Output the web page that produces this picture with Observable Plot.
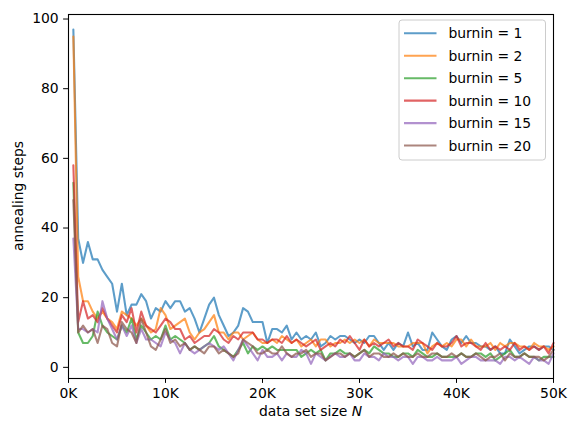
<!DOCTYPE html>
<html>
<head>
<meta charset="utf-8">
<script src="https://cdn.jsdelivr.net/npm/d3@7"></script>
<script src="https://cdn.jsdelivr.net/npm/@observablehq/plot@0.6"></script>
<style>
  html, body { margin: 0; padding: 0; background: #fff; }
  svg { display: block; }
</style>
</head>
<body>
<div id="chart"></div>
<script>
// sample grid: data set size N
const sizes = [
  500,1000,1500,2000,2500,3000,3500,4000,4500,5000,
  5500,6000,6500,7000,7500,8000,8500,9000,9500,10000,
  10500,11000,11500,12000,12500,13000,13500,14000,14500,15000,
  15500,16000,16500,17000,17500,18000,18500,19000,19500,20000,
  20500,21000,21500,22000,22500,23000,23500,24000,24500,25000,
  25500,26000,26500,27000,27500,28000,28500,29000,29500,30000,
  30500,31000,31500,32000,32500,33000,33500,34000,34500,35000,
  35500,36000,36500,37000,37500,38000,38500,39000,39500,40000,
  40500,41000,41500,42000,42500,43000,43500,44000,44500,45000,
  45500,46000,46500,47000,47500,48000,48500,49000,49500,50000
];

const seriesNames = ["burnin = 1", "burnin = 2", "burnin = 5", "burnin = 10", "burnin = 15", "burnin = 20"];
const seriesColors = ["#1f77b4", "#ff7f0e", "#2ca02c", "#d62728", "#9467bd", "#8c564b"];

const burnin1 = [
  97,37,30,36,31,31,28,26,24,16, 24,15,18,18,21,19,14,17,16,19,
  17,19,19,16,17,14,10,14,18,20, 15,12,9,10,12,17,16,13,13,13,
  7,11,11,10,12,8,10,8,9,8, 10,6,7,9,8,9,9,8,7,8,
  7,9,9,7,5,7,5,7,6,10, 6,7,5,5,10,8,6,5,8,9,
  7,9,7,7,6,6,5,6,4,4, 8,6,4,5,6,6,5,6,6,5
];
const burnin2 = [
  95,26,19,19,16,14,16,14,13,11, 16,15,14,12,14,12,10,11,17,15,
  11,12,13,14,10,8,10,11,13,15, 10,10,8,10,10,8,9,10,8,7,
  7,8,7,9,8,7,8,6,7,8, 6,8,8,6,7,7,8,7,8,7,
  8,6,8,7,7,7,7,6,6,6, 7,7,7,4,6,7,6,7,6,8,
  8,6,8,6,6,6,7,5,7,6, 7,7,6,6,5,7,6,6,5,6
];
const burnin5 = [
  53,10,7,7,9,16,12,10,9,8, 12,10,14,8,12,10,8,9,8,12,
  8,9,8,7,5,6,5,6,7,9, 6,5,4,3,5,7,4,6,5,6,
  5,6,5,5,5,5,5,3,4,5, 4,5,2,4,4,5,4,4,3,4,
  5,4,6,5,4,4,3,3,4,4, 3,5,4,3,3,4,3,3,3,3,
  4,3,3,4,4,3,4,2,3,4, 5,3,3,4,3,3,2,3,3,3
];
const burnin10 = [
  58,13,19,14,15,13,17,14,12,10, 15,13,17,10,16,12,11,10,12,14,
  13,11,11,8,9,7,8,9,9,11, 10,8,7,9,8,10,10,10,8,8,
  7,8,8,7,9,7,8,7,6,7, 8,5,6,7,6,8,7,9,7,5,
  8,6,7,6,7,8,6,7,6,6, 5,8,7,6,5,7,6,6,7,9,
  6,7,7,6,5,7,5,6,5,6, 5,7,5,6,5,6,5,6,4,7
];
const burnin15 = [
  37,11,11,10,11,10,19,14,11,8, 12,9,12,7,11,8,8,7,6,10,
  8,7,4,7,5,4,5,6,7,6, 5,6,4,2,5,8,6,4,2,5,
  3,3,4,2,4,3,3,5,4,1, 4,3,2,3,4,3,3,4,2,2,
  4,3,3,2,4,3,3,2,3,3, 1,3,3,2,2,3,2,2,2,3,
  1,2,3,3,2,2,2,2,1,3, 3,2,3,2,1,3,2,2,1,4
];
const burnin20 = [
  48,10,12,10,11,7,12,11,7,6, 13,11,10,7,14,10,6,5,8,11,
  7,8,6,7,5,6,5,4,6,6, 4,5,4,3,4,8,7,6,4,4,
  5,4,4,6,4,3,4,4,5,3, 4,4,2,3,4,4,3,4,3,4,
  5,3,4,4,3,3,4,3,4,3, 3,4,3,3,4,4,3,3,4,3,
  4,3,3,4,3,2,3,3,4,2, 4,3,3,4,3,3,3,2,3,5
];

const xTicks = [0, 10000, 20000, 30000, 40000, 50000];
const xTickLabels = ["0K", "10K", "20K", "30K", "40K", "50K"];
const yTicks = [0, 20, 40, 60, 80, 100];

const allSeries = [burnin1, burnin2, burnin5, burnin10, burnin15, burnin20];
const rows = [];
allSeries.forEach((vals, s) => {
  vals.forEach((v, i) => rows.push({N: sizes[i], steps: v, burnin: seriesNames[s]}));
});

const FONT = "DejaVu Sans, sans-serif";
const FS = 13.9;
const LW = 2.08;

const chart = Plot.plot({
  width: 569,
  height: 426,
  marginLeft: 68,
  marginRight: 16,
  marginTop: 14,
  marginBottom: 48,
  style: {fontFamily: FONT, fontSize: FS + "px", color: "black", background: "white"},
  x: {domain: [0, 50000]},
  y: {domain: [-3.2, 101.3]},
  color: {domain: seriesNames, range: seriesColors},
  marks: [
    Plot.line(rows, {x: "N", y: "steps", z: "burnin", stroke: "burnin", strokeWidth: LW, strokeOpacity: 0.72}),
    Plot.frame({stroke: "black", strokeWidth: 1.1}),
    Plot.axisX({ticks: xTicks, tickFormat: (d) => xTickLabels[xTicks.indexOf(d)], tickSize: 4.9, tickPadding: 4.9, label: null, fontSize: FS}),
    Plot.axisY({ticks: yTicks, tickSize: 4.9, tickPadding: 4.9, label: null, fontSize: FS})
  ]
});

document.getElementById("chart").appendChild(chart);

const svg = d3.select(chart);

// axis titles
const xl = svg.append("text")
  .attr("x", 310.5).attr("y", 416)
  .attr("text-anchor", "middle")
  .attr("font-family", FONT).attr("font-size", FS).attr("fill", "black");
xl.append("tspan").text("data set size ");
xl.append("tspan").attr("font-style", "italic").text("N");

svg.append("text")
  .attr("transform", "translate(23,196) rotate(-90)")
  .attr("text-anchor", "middle")
  .attr("font-family", FONT).attr("font-size", FS).attr("fill", "black")
  .text("annealing steps");

// legend
const lg = svg.append("g");
lg.append("rect")
  .attr("x", 399).attr("y", 20).attr("width", 146.5).attr("height", 140)
  .attr("rx", 3).attr("fill", "white").attr("fill-opacity", 0.8)
  .attr("stroke", "#cccccc").attr("stroke-width", 1);
seriesNames.forEach((name, i) => {
  const cy = 33.3 + i * 22.45;
  lg.append("line")
    .attr("x1", 404).attr("x2", 436.5).attr("y1", cy).attr("y2", cy)
    .attr("stroke", seriesColors[i]).attr("stroke-opacity", 0.72).attr("stroke-width", LW);
  lg.append("text")
    .attr("x", 448.5).attr("y", cy).attr("dy", "0.36em")
    .attr("text-anchor", "start")
    .attr("font-family", FONT).attr("font-size", FS).attr("fill", "black")
    .text(name);
});
</script>
</body>
</html>
